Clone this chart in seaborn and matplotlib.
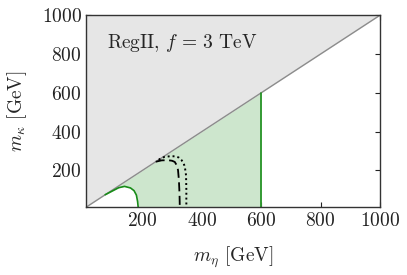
import matplotlib
matplotlib.use("Agg")
import matplotlib.pyplot as plt
import numpy as np
import pandas as pd
import seaborn as sns

sns.set_theme(style="ticks")
plt.rcParams['font.family'] = ['cmr10', 'DejaVu Serif']
plt.rcParams['mathtext.fontset'] = 'cm'
plt.rcParams['axes.formatter.use_mathtext'] = True

# axis range (GeV)
m_min = 10
m_max = 1000

# green boundary curve (lower-left edge of allowed region)
green_x = [75, 100, 120, 140, 160, 172, 180, 184, 186]
green_y = [75, 95, 111, 118, 110, 96, 73, 40, 10]
# right edge of allowed region
cut_x = 600

# dashed black contour
dash_x = [245, 265, 286, 300, 309, 316, 320, 323, 325, 326]
dash_y = [245, 252, 253, 250, 244, 226, 202, 150, 80, 10]

# dotted black contour
dot_x = [255, 262, 275, 292, 309, 322, 332, 339, 343, 347, 348, 348]
dot_y = [255, 262, 270, 273, 273, 267, 253, 236, 218, 175, 100, 10]

fig = plt.figure(figsize=(4.07, 2.75), dpi=100)
ax = fig.add_axes([0.211, 0.246, 0.723, 0.699])

diag = np.array([m_min, m_max])
# grey excluded triangle above diagonal
ax.fill_between(diag, diag, m_max, color='#e6e6e6', lw=0)

# green allowed region
gx = np.array(green_x, dtype=float)
gy = np.array(green_y, dtype=float)
xs = np.concatenate([gx, [cut_x]])
lower = np.concatenate([gy, [m_min]])
lower[-2] = m_min
ax.fill_between(xs, lower, xs, color='#cde6cd', lw=0)

sns.lineplot(x=diag, y=diag, ax=ax, color='#8c8c8c', lw=1.0, sort=False, estimator=None)
sns.lineplot(x=green_x, y=green_y, ax=ax, color='#188c18', lw=1.2, sort=False, estimator=None)
sns.lineplot(x=[cut_x, cut_x], y=[m_min, cut_x], ax=ax, color='#188c18', lw=1.2,
             sort=False, estimator=None)
sns.lineplot(x=dash_x, y=dash_y, ax=ax, color='black', lw=1.3, sort=False, estimator=None,
             linestyle=(0, (5, 2.5)))
sns.lineplot(x=dot_x, y=dot_y, ax=ax, color='black', lw=1.4, sort=False, estimator=None,
             linestyle=(0, (1, 1.5)))

ax.set_xlim(m_min, m_max)
ax.set_ylim(m_min, m_max)
ax.set_xticks([200, 400, 600, 800, 1000])
ax.set_yticks([200, 400, 600, 800, 1000])
ax.tick_params(direction='in', top=True, right=True, length=3.5, width=0.8,
               labelsize=14, colors='#222222', pad=3)
for s in ax.spines.values():
    s.set_linewidth(1.0)
    s.set_color('#333333')

ax.set_xlabel(r'$m_\eta$ [GeV]', fontsize=14, labelpad=11)
ax.set_ylabel(r'$m_\kappa$ [GeV]', fontsize=14, labelpad=9)
ax.text(80, 855, r'RegII, $f\,=\,3$ TeV', fontsize=14, va='center', ha='left')

fig.savefig('out.png', dpi=100)
